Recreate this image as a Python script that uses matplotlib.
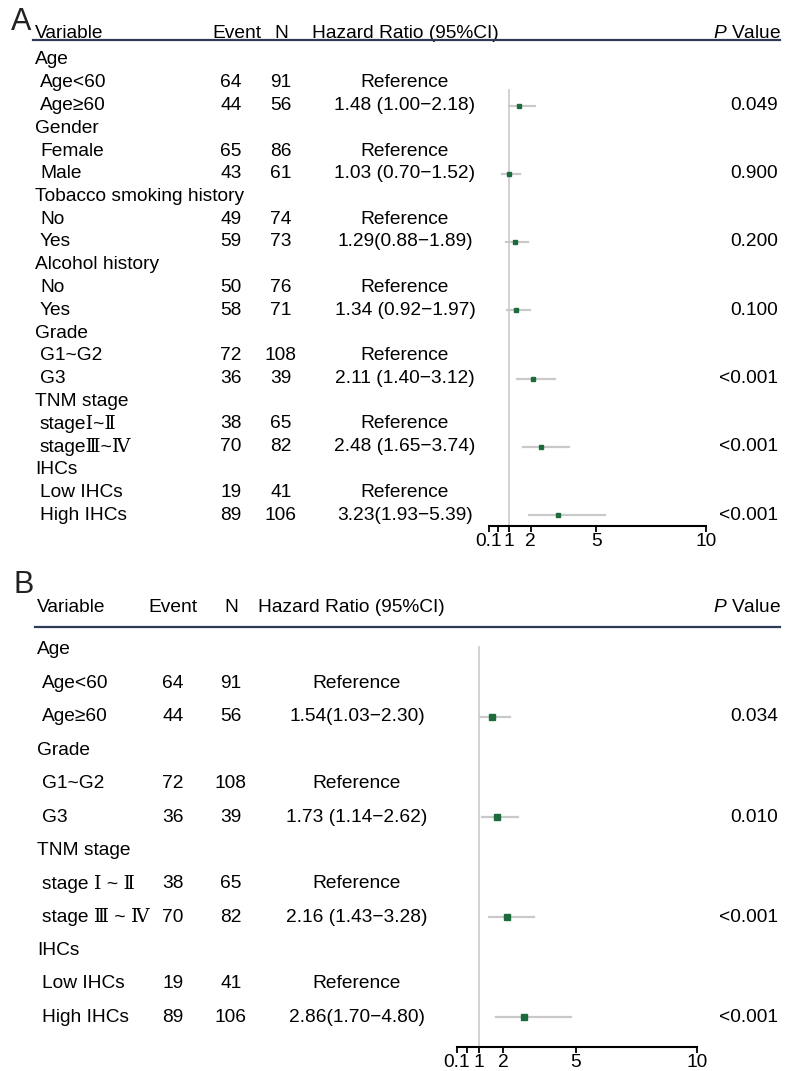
import numpy as np
import matplotlib
matplotlib.use('Agg')
import matplotlib.pyplot as plt
from matplotlib.lines import Line2D
from matplotlib.transforms import blended_transform_factory

plt.rcParams['font.family'] = ['Liberation Sans', 'DejaVu Serif']
plt.rcParams['mathtext.fontset'] = 'custom'
plt.rcParams['mathtext.it'] = 'Liberation Sans:italic'
plt.rcParams['mathtext.rm'] = 'Liberation Sans'

# ---- panel A data ----
a_labels = ['Age', 'Age<60', 'Age≥60', 'Gender', 'Female', 'Male',
            'Tobacco smoking history', 'No', 'Yes', 'Alcohol history', 'No', 'Yes',
            'Grade', 'G1~G2', 'G3', 'TNM stage', 'stageⅠ~Ⅱ', 'stageⅢ~Ⅳ',
            'IHCs', 'Low IHCs', 'High IHCs']
a_group = [1, 0, 0, 1, 0, 0, 1, 0, 0, 1, 0, 0, 1, 0, 0, 1, 0, 0, 1, 0, 0]
a_event = [None, 64, 44, None, 65, 43, None, 49, 59, None, 50, 58,
           None, 72, 36, None, 38, 70, None, 19, 89]
a_n = [None, 91, 56, None, 86, 61, None, 74, 73, None, 76, 71,
       None, 108, 39, None, 65, 82, None, 41, 106]
a_hr = [None, None, 1.48, None, None, 1.03, None, None, 1.29, None, None, 1.34,
        None, None, 2.11, None, None, 2.48, None, None, 3.23]
a_lo = [None, None, 1.00, None, None, 0.70, None, None, 0.88, None, None, 0.92,
        None, None, 1.40, None, None, 1.65, None, None, 1.93]
a_hi = [None, None, 2.18, None, None, 1.52, None, None, 1.89, None, None, 1.97,
        None, None, 3.12, None, None, 3.74, None, None, 5.39]
a_hrtext = ['', 'Reference', '1.48 (1.00\u22122.18)', '', 'Reference', '1.03 (0.70\u22121.52)',
            '', 'Reference', '1.29(0.88\u22121.89)', '', 'Reference', '1.34 (0.92\u22121.97)',
            '', 'Reference', '2.11 (1.40\u22123.12)', '', 'Reference', '2.48 (1.65\u22123.74)',
            '', 'Reference', '3.23(1.93\u22125.39)']
a_p = ['', '', '0.049', '', '', '0.900', '', '', '0.200', '', '', '0.100',
       '', '', '<0.001', '', '', '<0.001', '', '', '<0.001']

# ---- panel B data ----
b_labels = ['Age', 'Age<60', 'Age≥60', 'Grade', 'G1~G2', 'G3',
            'TNM stage', 'stage Ⅰ ~ Ⅱ', 'stage Ⅲ ~ Ⅳ', 'IHCs', 'Low IHCs', 'High IHCs']
b_group = [1, 0, 0, 1, 0, 0, 1, 0, 0, 1, 0, 0]
b_event = [None, 64, 44, None, 72, 36, None, 38, 70, None, 19, 89]
b_n = [None, 91, 56, None, 108, 39, None, 65, 82, None, 41, 106]
b_hr = [None, None, 1.54, None, None, 1.73, None, None, 2.16, None, None, 2.86]
b_lo = [None, None, 1.03, None, None, 1.14, None, None, 1.43, None, None, 1.70]
b_hi = [None, None, 2.30, None, None, 2.62, None, None, 3.28, None, None, 4.80]
b_hrtext = ['', 'Reference', '1.54(1.03\u22122.30)', '', 'Reference', '1.73 (1.14\u22122.62)',
            '', 'Reference', '2.16 (1.43\u22123.28)', '', 'Reference', '2.86(1.70\u22124.80)']
b_p = ['', '', '0.034', '', '', '0.010', '', '', '<0.001', '', '', '<0.001']

xticks = [0.1, 1, 2, 5, 10]
xticklabels = ['0.1', '1', '2', '5', '10']

W, H = 787, 1071
fig = plt.figure(figsize=(W / 100, H / 100), dpi=100)

green = '#1c6b3c'
cigrey = '#c9c9c9'
navy = '#2e3b57'


def panel(letter, letter_xy, labels, group, event, n, hr, lo, hi, hrtext, pv,
          ax_px, row0, step, head_y, line_y, axis_y, refstart, cols, fs, msize):
    # ax_px: pixel x of 0.1 and 10
    x0, x1 = ax_px
    nrow = len(labels)
    itop = (line_y - row0) / step
    ibot = (axis_y - row0) / step
    ax = fig.add_axes([x0 / W, 1 - axis_y / H, (x1 - x0) / W, (axis_y - line_y) / H])
    ax.set_xlim(0.1, 10)
    ax.set_ylim(ibot, itop)
    for s in ['top', 'right', 'left']:
        ax.spines[s].set_visible(False)
    ax.spines['bottom'].set_linewidth(1.5)
    ax.set_yticks([])
    ax.set_xticks(xticks)
    ax.set_xticklabels(xticklabels, fontsize=fs)
    ax.set_xticks([0.5], minor=True)
    ax.tick_params(axis='x', which='both', direction='out', length=4, width=1.3, pad=1)
    ax.patch.set_alpha(0)

    ax.plot([1, 1], [refstart, ibot], color='#cfcfcf', lw=1.3, zorder=1)
    for i in range(nrow):
        if hr[i] is not None:
            ax.plot([lo[i], hi[i]], [i, i], color=cigrey, lw=1.6, zorder=2)
            ax.plot(hr[i], i, marker='s', color=green, ms=msize, zorder=3, lw=0)

    tr = blended_transform_factory(fig.transFigure, ax.transData)
    hi_ = (head_y - row0) / step
    vx, ex_head, ex, nx, hx_head, hx, px_head, px = cols
    ax.text(vx / W, hi_, 'Variable', transform=tr, fontsize=fs, va='center', ha='left')
    ax.text(ex_head / W, hi_, 'Event', transform=tr, fontsize=fs, va='center', ha='center')
    ax.text(nx / W, hi_, 'N', transform=tr, fontsize=fs, va='center', ha='center')
    ax.text(hx_head / W, hi_, 'Hazard Ratio (95%CI)', transform=tr, fontsize=fs, va='center', ha='left')
    ax.text(px_head / W, hi_, '$\\it{P}$ Value', transform=tr, fontsize=fs, va='center', ha='right')

    for i in range(nrow):
        xl = vx if group[i] else vx + 5
        ax.text(xl / W, i, labels[i], transform=tr, fontsize=fs, va='center', ha='left')
        if event[i] is not None:
            ax.text(ex / W, i, str(event[i]), transform=tr, fontsize=fs, va='center', ha='center')
            ax.text(nx / W, i, str(n[i]), transform=tr, fontsize=fs, va='center', ha='center')
        if hrtext[i]:
            ax.text(hx / W, i, hrtext[i], transform=tr, fontsize=fs, va='center', ha='center')
        if pv[i]:
            ax.text(px / W, i, pv[i], transform=tr, fontsize=fs, va='center', ha='right')

    fig.add_artist(Line2D([(vx - 2) / W, 780 / W], [1 - line_y / H, 1 - line_y / H],
                          color=navy, lw=1.6))
    fig.text(letter_xy[0] / W, 1 - letter_xy[1] / H, letter, fontsize=22,
             va='baseline', ha='left', color='#222222')
    return ax


panel('A', (11, 30), a_labels, a_group, a_event, a_n, a_hr, a_lo, a_hi, a_hrtext, a_p,
      (489, 706), 60, 22.75, 33, 40, 526, 1.3,
      (35, 237, 231, 281, 312, 405, 781, 778), 13.8, 2.8)

panel('B', (14, 593), b_labels, b_group, b_event, b_n, b_hr, b_lo, b_hi, b_hrtext, b_p,
      (457, 697), 650, 33.4, 607, 627, 1047, -0.1,
      (37, 173, 173, 231, 258, 357, 781, 778), 13.8, 4.3)

fig.savefig('out.png', dpi=100)
